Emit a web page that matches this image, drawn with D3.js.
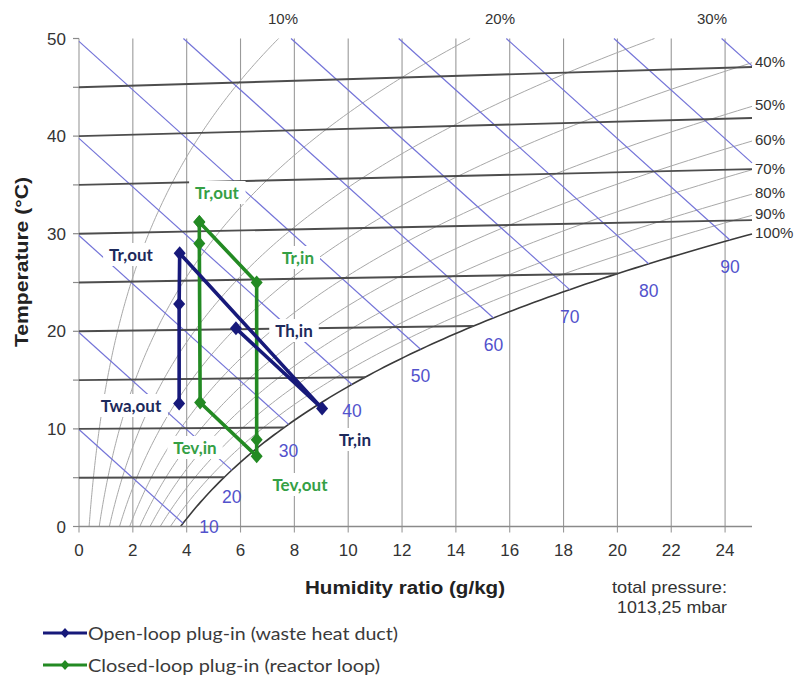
<!DOCTYPE html>
<html><head><meta charset="utf-8">
<script src="https://cdn.jsdelivr.net/npm/d3@7"></script>
<style>body{margin:0;background:#fff}svg{display:block}</style>
</head><body><svg id="c" width="795" height="679"></svg>
<script>
// ---------- data ----------
const xTicks = [0,2,4,6,8,10,12,14,16,18,20,22,24];
const yTicks = [0,10,20,30,40,50];
const yMinorTicks = [5,15,25,35,45];
const isotherms = [5,10,15,20,25,30,35,40,45];
const rhLevels = [10,20,30,40,50,60,70,80,90,100];
const rhLabels = ["10%","20%","30%","40%","50%","60%","70%","80%","90%","100%"];
const enthalpyLevels = [10,20,30,40,50,60,70,80,90,100,110];
const enthalpyLabels = ["10","20","30","40","50","60","70","80","90","",""];

const openLoopNames = ["Twa,out","","Tr,out","Tr,in","Th,in"];
const openLoopX = [3.72, 3.72, 3.74, 9.03, 5.83];
const openLoopT = [12.6, 22.8, 28.0, 12.1, 20.3];

const closedLoopNames = ["Tr,out","Tr,in","","Tev,out","Tev,in","","Tr,out"];
const closedLoopX = [4.47, 6.6, 6.6, 6.6, 4.5, 4.47, 4.47];
const closedLoopT = [31.2, 25.0, 8.9, 7.2, 12.7, 29.0, 31.2];

const seriesNames = ["Open-loop plug-in (waste heat duct)", "Closed-loop plug-in (reactor loop)"];
const pressureNote = ["total pressure:", "1013,25 mbar"];

// ---------- layout ----------
const W = 795, H = 679;
const svg = d3.select("#c");
svg.append("rect").attr("width",W).attr("height",H).attr("fill","#fff");
const x = d3.scaleLinear().domain([0,25]).range([79,752]);
const y = d3.scaleLinear().domain([0,50]).range([526.5,38.5]);

const C = {
  vgrid:"#9a9a9a", rh:"#a8a8a8", sat:"#3a3a3a", iso:"#4d4d4d", enth:"#7474d8",
  enthText:"#5252cc", text:"#333", navy:"#17197a", green:"#238a23",
  navyText:"#1d2a5c", greenText:"#35a045"
};

// ---------- psychrometrics (chart coordinate system) ----------
const P = 101325;
const ps = t => 611.2*Math.exp(17.62*t/(243.12+t));
const xOf = (t,phi) => { const p = phi*ps(t); return 622*p/(P-p); };
const Yof = (t,xg) => t + 1.86*t*xg/1006;
const hSat = t => { const xs = xOf(t,1); return 1.006*t + xs/1000*(2501+1.86*t); };
function bisect(f, a, b){ for(let i=0;i<60;i++){ const m=(a+b)/2; if(f(m)) a=m; else b=m; } return a; }

const line = d3.line().x(d=>x(d[0])).y(d=>y(d[1]));
const g = svg.append("g");

// vertical grid
g.selectAll(".vg").data(xTicks).join("line")
  .attr("x1",d=>x(d)).attr("x2",d=>x(d)).attr("y1",y(50)).attr("y2",y(0)+6)
  .attr("stroke",C.vgrid).attr("stroke-width",1.1);

// RH curves
const rhCurves = rhLevels.map((lv,i)=>{
  const phi = lv/100, pts=[];
  const inside = t => { const xx=xOf(t,phi); return xx<=25 && Yof(t,xx)<=50; };
  let t=0;
  for(; t<70; t+=0.25){ if(!inside(t)) break; const xx=xOf(t,phi); pts.push([xx,Yof(t,xx)]); }
  const te = bisect(inside, t-0.25, t); const xe=xOf(te,phi);
  pts.push([xe,Yof(te,xe)]);
  return {lv, pts, label:rhLabels[i]};
});
g.selectAll(".rh").data(rhCurves).join("path")
  .attr("d",d=>line(d.pts)).attr("fill","none")
  .attr("stroke",d=>d.lv===100?C.sat:C.rh).attr("stroke-width",d=>d.lv===100?1.6:1);

// enthalpy lines
const hY = (h,xg) => (h - 2.501*xg)/1.006;
const enth = enthalpyLevels.map((h,i)=>{
  const x0 = Math.max(0,(h-1.006*50)/2.501);
  const ts = bisect(t=>hSat(t)<h, -5, 60);
  const x1 = Math.min(25, xOf(ts,1));
  return {h, pts:[[x0,hY(h,x0)],[x1,hY(h,x1)]], label:enthalpyLabels[i]};
});
g.selectAll(".en").data(enth).join("path")
  .attr("d",d=>line(d.pts)).attr("fill","none").attr("stroke",C.enth).attr("stroke-width",1.2);

// isotherms
const iso = isotherms.map(t=>{ const x1=Math.min(25,xOf(t,1)); return [[0,t],[x1,Yof(t,x1)]]; });
g.selectAll(".iso").data(iso).join("path")
  .attr("d",line).attr("fill","none").attr("stroke",C.iso).attr("stroke-width",1.9);

// bottom axis line + y ticks
g.append("line").attr("x1",x(0)).attr("x2",x(25)).attr("y1",y(0)).attr("y2",y(0))
  .attr("stroke","#8a8a8a").attr("stroke-width",1.5);
g.selectAll(".yt").data(yTicks.concat(yMinorTicks)).join("line")
  .attr("x1",x(0)-6).attr("x2",x(0)).attr("y1",d=>y(d)).attr("y2",d=>y(d))
  .attr("stroke","#8a8a8a").attr("stroke-width",1.2);

// tick labels
const font = "'Liberation Sans', Arial, sans-serif";
svg.selectAll(".xl").data(xTicks).join("text")
  .attr("x",d=>x(d)).attr("y",556).attr("text-anchor","middle")
  .attr("font-family",font).attr("font-size",17).attr("fill",C.text).text(d=>d);
svg.selectAll(".yl").data(yTicks).join("text")
  .attr("x",66).attr("y",d=>y(d)+6).attr("text-anchor","end")
  .attr("font-family",font).attr("font-size",17).attr("fill",C.text).text(d=>d);

// RH labels
const topLabelX = [283,500,712];
svg.selectAll(".rhl").data(rhCurves).join("text")
  .attr("x",(d,i)=> i<3 ? topLabelX[i] : 755)
  .attr("y",(d,i)=> i<3 ? 24 : y(d.pts[d.pts.length-1][1]) + 4)
  .attr("text-anchor",(d,i)=> i<3 ? "middle" : "start")
  .attr("font-family",font).attr("font-size",15).attr("fill",C.text).text(d=>d.label);

// enthalpy labels
svg.selectAll(".enl").data(enth.filter(d=>d.label)).join("text")
  .attr("x",d=>{const e=d.pts[1]; return x(e[0]) + (d.h===10?26:0);})
  .attr("y",d=>{const e=d.pts[1]; return y(e[1]) + (d.h===10?10:33);})
  .attr("text-anchor","middle").attr("font-family",font).attr("font-size",17.5)
  .attr("fill",C.enthText).text(d=>d.label);

// series point labels (white boxes interrupting the grid)
const lblFont = "Lato, 'Open Sans', sans-serif";
const pointLabels = [
  {t:"Tr,out", c:C.navyText, px:131, py:255},
  {t:"Th,in", c:C.navyText, px:294, py:331},
  {t:"Twa,out", c:C.navyText, px:131, py:406},
  {t:"Tr,in", c:C.navyText, px:355, py:440},
  {t:"Tr,out", c:C.greenText, px:217, py:193},
  {t:"Tr,in", c:C.greenText, px:298, py:258},
  {t:"Tev,in", c:C.greenText, px:195, py:448},
  {t:"Tev,out", c:C.greenText, px:300, py:485}
];
const lg = svg.append("g");
const lt = lg.selectAll("g").data(pointLabels).join("g");
lt.append("rect").attr("fill","#fff");
lt.append("text").attr("x",d=>d.px).attr("y",d=>d.py+6).attr("text-anchor","middle")
  .attr("font-family",lblFont).attr("font-weight","bold").attr("font-size",17)
  .attr("fill",d=>d.c).text(d=>d.t);
lt.each(function(){
  const gg=d3.select(this); const b=gg.select("text").node().getBBox();
  gg.select("rect").attr("x",b.x-6).attr("y",b.y-1).attr("width",b.width+12).attr("height",b.height+2);
});

// series
const diamond = "M0,-7L6,0L0,7L-6,0Z";
function drawSeries(xs, ts, color){
  const pts = xs.map((v,i)=>[v,ts[i]]);
  const sg = svg.append("g");
  sg.append("path").attr("d",line(pts)).attr("fill","none").attr("stroke",color)
    .attr("stroke-width",3.6).attr("stroke-linejoin","round");
  sg.selectAll("path.m").data(pts).join("path").attr("class","m")
    .attr("transform",d=>`translate(${x(d[0])},${y(d[1])})`).attr("d",diamond).attr("fill",color);
}
drawSeries(closedLoopX, closedLoopT, C.green);
drawSeries(openLoopX, openLoopT, C.navy);
lg.raise();

// axis titles
svg.append("text").attr("transform","translate(28,262) rotate(-90)").attr("text-anchor","middle")
  .attr("font-family",font).attr("font-weight","bold").attr("font-size",17.5).attr("fill","#222")
  .attr("textLength",170).attr("lengthAdjust","spacingAndGlyphs").text("Temperature (°C)");
svg.append("text").attr("x",405).attr("y",594).attr("text-anchor","middle")
  .attr("font-family",font).attr("font-weight","bold").attr("font-size",17.5).attr("fill","#222")
  .attr("textLength",200).attr("lengthAdjust","spacingAndGlyphs").text("Humidity ratio (g/kg)");

// pressure note
const narrow = "'Liberation Sans Narrow', 'Liberation Sans', sans-serif";
svg.selectAll(".pn").data(pressureNote).join("text")
  .attr("x",727).attr("y",(d,i)=>593+i*20).attr("text-anchor","end")
  .attr("font-family",narrow).attr("font-size",17).attr("fill","#333")
  .attr("textLength",(d,i)=>i?110:115).attr("lengthAdjust","spacingAndGlyphs").text(d=>d);

// legend
const legColors = [C.navy, C.green];
const leg = svg.selectAll(".leg").data(seriesNames).join("g")
  .attr("transform",(d,i)=>`translate(0,${633+i*32})`);
leg.append("line").attr("x1",43).attr("x2",87).attr("stroke",(d,i)=>legColors[i]).attr("stroke-width",3.2);
leg.append("path").attr("d","M0,-5L4.5,0L0,5L-4.5,0Z").attr("transform","translate(65,0)").attr("fill",(d,i)=>legColors[i]);
leg.append("text").attr("x",88).attr("y",6.5).attr("font-family",lblFont).attr("font-size",18)
  .attr("fill","#3a3a3a").attr("textLength",(d,i)=>i?292:310).attr("lengthAdjust","spacingAndGlyphs").text(d=>d);
</script></body></html>
